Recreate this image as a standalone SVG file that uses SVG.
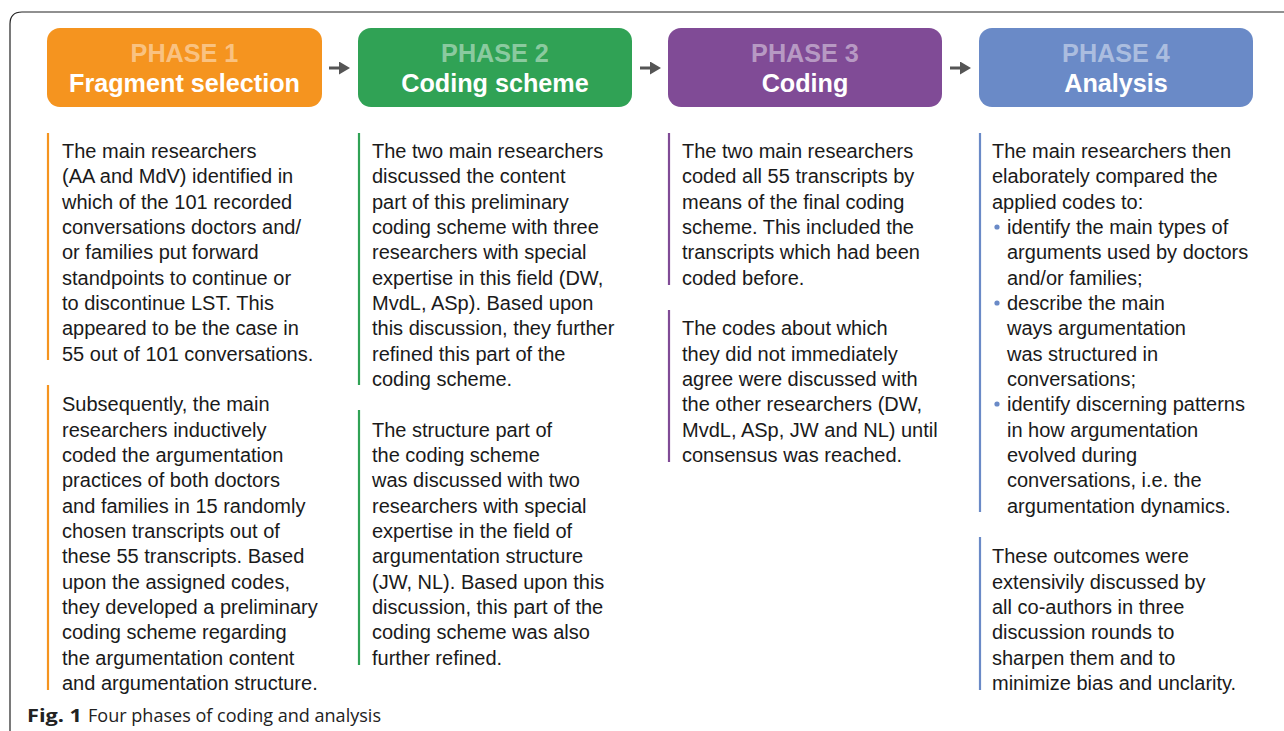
<svg xmlns="http://www.w3.org/2000/svg" width="1284" height="731" viewBox="0 0 1284 731">
<style>
.hd{font-family:"Liberation Sans",Arial,sans-serif;font-weight:bold;font-size:25.2px;text-anchor:middle}
.ph{fill:#ffffff;fill-opacity:0.45}
.tt{fill:#ffffff}
.bd{font-family:"Liberation Sans",Arial,sans-serif;font-size:20px;fill:#1a1a1a}
.bar{stroke-width:2.2}
.conn{stroke:#555555;stroke-width:3;fill:none}
.cap{font-family:"Open Sans","Noto Sans",sans-serif;font-size:18px;fill:#222222}
</style>
<defs>
<marker id="ah" markerWidth="12" markerHeight="14" refX="0" refY="6.5" orient="auto" markerUnits="userSpaceOnUse"><path d="M0,0 L11,6.5 L0,13 Z" fill="#555555"/></marker>
</defs>
<rect width="1284" height="731" fill="#ffffff"/>
<path d="M10,731 L10,24 Q10,12 22,12 L1284,12" fill="none" stroke="#222222" stroke-width="1.2"/>

<g id="connectors">
<line class="conn" x1="329" y1="68" x2="339" y2="68" marker-end="url(#ah)"/>
<line class="conn" x1="640" y1="68" x2="650" y2="68" marker-end="url(#ah)"/>
<line class="conn" x1="950" y1="68" x2="960" y2="68" marker-end="url(#ah)"/>
</g>

<g id="phase1">
<rect x="47" y="28" width="275" height="79" rx="13" fill="#F5941F"/>
<text class="hd ph" x="184.5" y="62">PHASE 1</text>
<text class="hd tt" x="184.5" y="92">Fragment selection</text>
<line class="bar" x1="48" y1="133" x2="48" y2="360" stroke="#F5941F"/>
<text class="bd" x="62" y="158"><tspan x="62">The main researchers</tspan><tspan x="62" dy="25.33">(AA and MdV) identified in</tspan><tspan x="62" dy="25.33">which of the 101 recorded</tspan><tspan x="62" dy="25.33">conversations doctors and/</tspan><tspan x="62" dy="25.33">or families put forward</tspan><tspan x="62" dy="25.33">standpoints to continue or</tspan><tspan x="62" dy="25.33">to discontinue LST. This</tspan><tspan x="62" dy="25.33">appeared to be the case in</tspan><tspan x="62" dy="25.33">55 out of 101 conversations.</tspan></text>
<line class="bar" x1="48" y1="385" x2="48" y2="690" stroke="#F5941F"/>
<text class="bd" x="62" y="411.3"><tspan x="62">Subsequently, the main</tspan><tspan x="62" dy="25.33">researchers inductively</tspan><tspan x="62" dy="25.33">coded the argumentation</tspan><tspan x="62" dy="25.33">practices of both doctors</tspan><tspan x="62" dy="25.33">and families in 15 randomly</tspan><tspan x="62" dy="25.33">chosen transcripts out of</tspan><tspan x="62" dy="25.33">these 55 transcripts. Based</tspan><tspan x="62" dy="25.33">upon the assigned codes,</tspan><tspan x="62" dy="25.33">they developed a preliminary</tspan><tspan x="62" dy="25.33">coding scheme regarding</tspan><tspan x="62" dy="25.33">the argumentation content</tspan><tspan x="62" dy="25.33">and argumentation structure.</tspan></text>
</g>

<g id="phase2">
<rect x="358" y="28" width="274" height="79" rx="13" fill="#30A255"/>
<text class="hd ph" x="495" y="62">PHASE 2</text>
<text class="hd tt" x="495" y="92">Coding scheme</text>
<line class="bar" x1="359" y1="133" x2="359" y2="385" stroke="#30A255"/>
<text class="bd" x="372" y="158"><tspan x="372">The two main researchers</tspan><tspan x="372" dy="25.33">discussed the content</tspan><tspan x="372" dy="25.33">part of this preliminary</tspan><tspan x="372" dy="25.33">coding scheme with three</tspan><tspan x="372" dy="25.33">researchers with special</tspan><tspan x="372" dy="25.33">expertise in this field (DW,</tspan><tspan x="372" dy="25.33">MvdL, ASp). Based upon</tspan><tspan x="372" dy="25.33">this discussion, they further</tspan><tspan x="372" dy="25.33">refined this part of the</tspan><tspan x="372" dy="25.33">coding scheme.</tspan></text>
<line class="bar" x1="359" y1="410" x2="359" y2="665" stroke="#30A255"/>
<text class="bd" x="372" y="436.6"><tspan x="372">The structure part of</tspan><tspan x="372" dy="25.33">the coding scheme</tspan><tspan x="372" dy="25.33">was discussed with two</tspan><tspan x="372" dy="25.33">researchers with special</tspan><tspan x="372" dy="25.33">expertise in the field of</tspan><tspan x="372" dy="25.33">argumentation structure</tspan><tspan x="372" dy="25.33">(JW, NL). Based upon this</tspan><tspan x="372" dy="25.33">discussion, this part of the</tspan><tspan x="372" dy="25.33">coding scheme was also</tspan><tspan x="372" dy="25.33">further refined.</tspan></text>
</g>

<g id="phase3">
<rect x="668" y="28" width="274" height="79" rx="13" fill="#804B96"/>
<text class="hd ph" x="805" y="62">PHASE 3</text>
<text class="hd tt" x="805" y="92">Coding</text>
<line class="bar" x1="669" y1="133" x2="669" y2="285" stroke="#804B96"/>
<text class="bd" x="682" y="158"><tspan x="682">The two main researchers</tspan><tspan x="682" dy="25.33">coded all 55 transcripts by</tspan><tspan x="682" dy="25.33">means of the final coding</tspan><tspan x="682" dy="25.33">scheme. This included the</tspan><tspan x="682" dy="25.33">transcripts which had been</tspan><tspan x="682" dy="25.33">coded before.</tspan></text>
<line class="bar" x1="669" y1="310" x2="669" y2="462" stroke="#804B96"/>
<text class="bd" x="682" y="335.3"><tspan x="682">The codes about which</tspan><tspan x="682" dy="25.33">they did not immediately</tspan><tspan x="682" dy="25.33">agree were discussed with</tspan><tspan x="682" dy="25.33">the other researchers (DW,</tspan><tspan x="682" dy="25.33">MvdL, ASp, JW and NL) until</tspan><tspan x="682" dy="25.33">consensus was reached.</tspan></text>
</g>

<g id="phase4">
<rect x="979" y="28" width="274" height="79" rx="13" fill="#6A8AC7"/>
<text class="hd ph" x="1116" y="62">PHASE 4</text>
<text class="hd tt" x="1116" y="92">Analysis</text>
<line class="bar" x1="980" y1="133" x2="980" y2="512" stroke="#6A8AC7"/>
<text class="bd" x="992" y="158"><tspan x="992">The main researchers then</tspan><tspan x="992" dy="25.33">elaborately compared the</tspan><tspan x="992" dy="25.33">applied codes to:</tspan><tspan x="1007" dy="25.33">identify the main types of</tspan><tspan x="1007" dy="25.33">arguments used by doctors</tspan><tspan x="1007" dy="25.33">and/or families;</tspan><tspan x="1007" dy="25.33">describe the main</tspan><tspan x="1007" dy="25.33">ways argumentation</tspan><tspan x="1007" dy="25.33">was structured in</tspan><tspan x="1007" dy="25.33">conversations;</tspan><tspan x="1007" dy="25.33">identify discerning patterns</tspan><tspan x="1007" dy="25.33">in how argumentation</tspan><tspan x="1007" dy="25.33">evolved during</tspan><tspan x="1007" dy="25.33">conversations, i.e. the</tspan><tspan x="1007" dy="25.33">argumentation dynamics.</tspan></text>
<circle cx="997" cy="227" r="2.6" fill="#6A8AC7"/>
<circle cx="997" cy="303" r="2.6" fill="#6A8AC7"/>
<circle cx="997" cy="404" r="2.6" fill="#6A8AC7"/>
<line class="bar" x1="980" y1="537" x2="980" y2="690" stroke="#6A8AC7"/>
<text class="bd" x="992" y="563.3"><tspan x="992">These outcomes were</tspan><tspan x="992" dy="25.33">extensivily discussed by</tspan><tspan x="992" dy="25.33">all co-authors in three</tspan><tspan x="992" dy="25.33">discussion rounds to</tspan><tspan x="992" dy="25.33">sharpen them and to</tspan><tspan x="992" dy="25.33">minimize bias and unclarity.</tspan></text>
</g>

<g id="caption">
<text class="cap" x="27" y="722" font-weight="bold" textLength="55" lengthAdjust="spacingAndGlyphs">Fig. 1</text>
<text class="cap" x="88" y="722" textLength="293" lengthAdjust="spacingAndGlyphs">Four phases of coding and analysis</text>
</g>
</svg>
